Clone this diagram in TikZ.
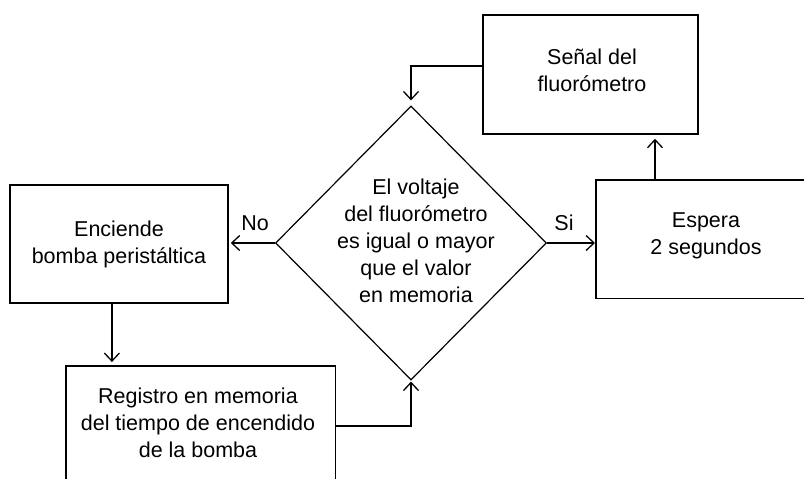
\documentclass[tikz,border=0pt]{standalone}
\usepackage{fontspec}
\setmainfont{Liberation Sans}
\usetikzlibrary{shapes.geometric,arrows.meta}
\begin{document}
\begin{tikzpicture}[x=1pt,y=-1pt,
  box/.style={draw,line width=1.8pt,inner sep=0pt,anchor=north west},
  openbox/.style={draw=none,inner sep=0pt,anchor=north west},
  txt/.style={align=center,inner sep=0pt,font=\fontsize{21.5}{27}\selectfont},
  lbl/.style={inner sep=0pt,font=\fontsize{21.5}{27}\selectfont},
  arr/.style={line width=1.5pt,-{Straight Barb[length=8pt,width=15pt,line width=1.3pt]}},
  dia/.style={diamond,draw,line width=1.2pt,inner sep=0pt,minimum width=271pt,minimum height=274pt}]
\useasboundingbox (0,0) rectangle (804,479);
% boxes
\node[box,minimum width=215pt,minimum height=119pt] (sen) at (482,14) {};
\node[txt] (sent) at (592,70) {Señal del\\fluorómetro};
\node[box,minimum width=218pt,minimum height=118pt] (enc) at (9,184) {};
\node[txt] (enct) at (119,244) {Enciende\\bomba peristáltica};
\node[openbox,minimum width=208pt,minimum height=118pt] (esp) at (596,180) {};
\draw[line width=1.8pt] (esp.north east) -- (esp.north west) -- (esp.south west) -- (esp.south east);
\node[txt] (espt) at (706,236) {Espera\\2 segundos};
\node[openbox,minimum width=269pt,minimum height=113pt] (reg) at (66,366) {};
\draw[line width=1.8pt] (reg.south west) -- (reg.north west) -- (reg.north east) -- (reg.south east);
\node[txt] (regt) at (198,423) {Registro en memoria\\del tiempo de encendido\\de la bomba};
% decision
\node[dia] (d) at (411,243) {};
\node[txt] (dt) at (416,241) {El voltaje\\del fluorómetro\\es igual o mayor\\que el valor\\en memoria};
\node[lbl] (no) at (255,223) {No};
\node[lbl] (si) at (564,223) {Si};
% connectors
\draw[arr,shorten >=5pt] (sen.west |- 0,66) -| (d.north);
\draw[arr,shorten >=4pt] ([xshift=59pt]esp.north west) -- ([xshift=59pt]esp.north west |- sen.south);
\draw[arr,shorten >=1pt] (d.east) -- (d.east -| esp.west);
\draw[arr,shorten >=2pt] (d.west) -- (d.west -| enc.east);
\draw[arr,shorten >=4pt] ([xshift=-7pt]enc.south) -- ([xshift=-7pt]enc.south |- reg.north);
\draw[arr,shorten >=1pt] ([yshift=-3.5pt]reg.east) -| (d.south);
\end{tikzpicture}
\end{document}
